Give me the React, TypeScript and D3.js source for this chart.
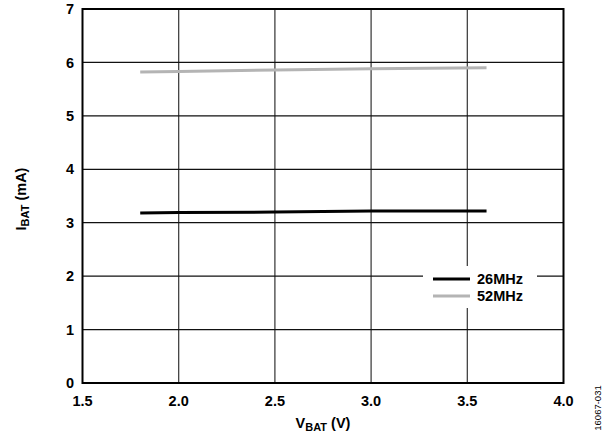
import React from "react";
import * as d3 from "d3";

const vbat = [1.8, 2.0, 2.5, 3.0, 3.6];
const i26 = [3.18, 3.19, 3.2, 3.22, 3.22];
const i52 = [5.82, 5.83, 5.86, 5.88, 5.9];
const xTicks = [1.5, 2.0, 2.5, 3.0, 3.5, 4.0];
const yTicks = [0, 1, 2, 3, 4, 5, 6, 7];
const seriesNames = ["26MHz", "52MHz"];

const W = 607, H = 435;
const L = 82.5, R = 563.5, T = 9, B = 383;
const font = "Liberation Sans, Arial, sans-serif";
const fs = 14.5;

export default function App() {
  const x = d3.scaleLinear().domain([1.5, 4.0]).range([L, R]);
  const y = d3.scaleLinear().domain([0, 7]).range([B, T]);
  const line = d3.line<number>().x((_, i) => x(vbat[i])).y((d) => y(d));
  const series = [
    { name: seriesNames[0], data: i26, color: "#000000" },
    { name: seriesNames[1], data: i52, color: "#b4b4b4" },
  ];
  return (
    <svg width={W} height={H} style={{ position: "absolute", left: 0, top: 0 }} fontFamily={font}>
      <rect width={W} height={H} fill="#fff" />
      {xTicks.slice(1, -1).map((t) => (
        <line key={"vx" + t} x1={x(t)} x2={x(t)} y1={T} y2={B} stroke="#333" strokeWidth={1.2} />
      ))}
      {yTicks.slice(1, -1).map((t) => (
        <line key={"hy" + t} x1={L} x2={R} y1={y(t)} y2={y(t)} stroke="#111" strokeWidth={1.2} />
      ))}
      {series.map((s) => (
        <path key={s.name} d={line(s.data) || ""} fill="none" stroke={s.color} strokeWidth={3} />
      ))}
      <rect x={423} y={266} width={114} height={42} fill="#fff" />
      {series.map((s, i) => (
        <g key={"lg" + s.name}>
          <line x1={433} x2={470} y1={279 + i * 17} y2={279 + i * 17} stroke={s.color} strokeWidth={3} />
          <text x={477} y={279 + i * 17} dy="0.35em" fontSize={fs} fontWeight="bold">{s.name}</text>
        </g>
      ))}
      <rect x={L} y={T} width={R - L} height={B - T} fill="none" stroke="#000" strokeWidth={2} />
      {xTicks.map((t) => (
        <text key={"xt" + t} x={x(t)} y={401} dy="0.35em" textAnchor="middle" fontSize={fs} fontWeight="bold">{t.toFixed(1)}</text>
      ))}
      {yTicks.map((t) => (
        <text key={"yt" + t} x={74} y={y(t)} dy="0.35em" textAnchor="end" fontSize={fs} fontWeight="bold">{t}</text>
      ))}
      <text x={323} y={423} dy="0.35em" textAnchor="middle" fontSize={fs} fontWeight="bold">
        V<tspan fontSize={11} dy="3">BAT</tspan><tspan dy="-3"> (V)</tspan>
      </text>
      <text transform={`translate(21,199) rotate(-90)`} dy="0.35em" textAnchor="middle" fontSize={fs} fontWeight="bold">
        I<tspan fontSize={11} dy="3">BAT</tspan><tspan dy="-3"> (mA)</tspan>
      </text>
      <text transform={`translate(598,408) rotate(-90)`} dy="0.35em" textAnchor="middle" fontSize={9.5}>16067-031</text>
    </svg>
  );
}
